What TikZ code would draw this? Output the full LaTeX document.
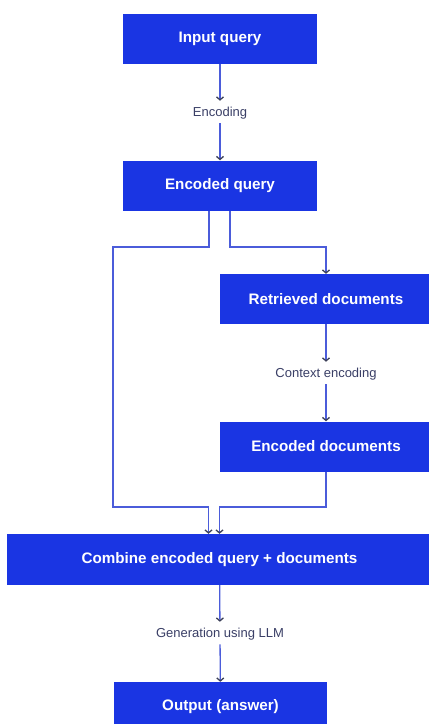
\documentclass[tikz,border=0pt]{standalone}
\usepackage{fontspec}
\setmainfont{Liberation Sans}
\usetikzlibrary{arrows.meta}

\definecolor{ragblue}{HTML}{1A35E3}
\definecolor{raglink}{HTML}{4B5CDA}
\definecolor{ragtip}{HTML}{3C4058}
\definecolor{ragtext}{HTML}{3A3F66}

\tikzset{
  stage/.style={fill=ragblue, text=white, font=\fontsize{15.2}{17}\selectfont\bfseries,
    minimum height=50pt, inner sep=0pt},
  steplabel/.style={text=ragtext, font=\fontsize{13}{15}\selectfont, inner sep=4pt},
  link/.style={draw=raglink, line width=1.3pt,
    -{Straight Barb[length=3pt,width=7pt,color=ragtip]}}
}

\begin{document}
\begin{tikzpicture}[x=1pt,y=-1pt]
    \useasboundingbox[fill=white] (0,0) rectangle (429,724);

    % boxes
    \node[stage, minimum width=194pt] (input) at (220,38.5) {Input query};
    \node[stage, minimum width=194pt] (encq) at (220,185.5) {Encoded query};
    \node[stage, minimum width=212pt] (retr) at (326,299) {Retrieved documents};
    \node[stage, minimum width=212pt] (encd) at (326,446.5) {Encoded documents};
    \node[stage, minimum width=425pt, minimum height=51pt] (comb) at (219.5,559.5) {Combine encoded query + documents};
    \node[stage, minimum width=213pt] (out) at (220.5,707) {Output (answer)};

    % step labels
    \node[steplabel] (lenc) at (220,113) {Encoding};
    \node[steplabel] (lctx) at (326,374) {Context encoding};
    \node[steplabel] (lgen) at (220,634) {Generation using LLM};

    % turning points
    \coordinate (qleft) at (113,247);
    \coordinate (qright) at (326,247);
    \coordinate (bend) at (113,507);

    \draw[link, shorten >=2pt] (input) -- (lenc);
    \draw[link] (lenc) -- (encq);
    \draw[link] ([xshift=10pt]encq.south) |- (qright) -- (retr.north);
    \draw[link, shorten >=2pt] (retr) -- (lctx);
    \draw[link] (lctx) -- (encd);
    \draw[link] ([xshift=-11pt]encq.south) |- (qleft) -- (bend) -| ([xshift=-11pt]comb.north);
    \draw[link] (encd.south) -- (encd.south |- bend) -| (comb.north);
    \draw[link, shorten >=2pt] (comb) -- (lgen);
    \draw[link] (lgen) -- (out);
\end{tikzpicture}
\end{document}
